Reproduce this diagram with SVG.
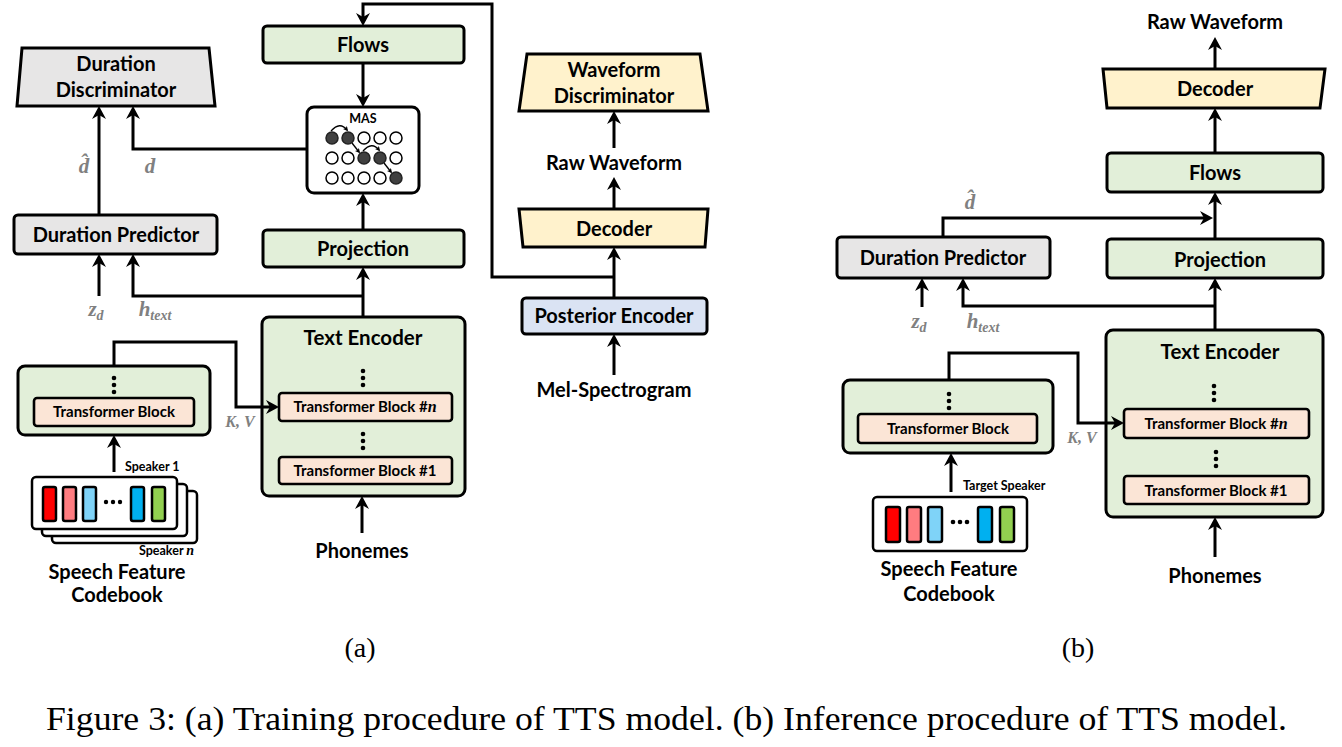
<svg xmlns="http://www.w3.org/2000/svg" width="1342" height="747" viewBox="0 0 1342 747">
<style>
  .bx{stroke:#000;stroke-width:3;}
  .g{fill:#e2efd9;}
  .gr{fill:#e7e6e6;}
  .y{fill:#fff2cc;}
  .bl{fill:#dae3f3;}
  .pe{fill:#fbe5d6;stroke:#000;stroke-width:2.6;}
  .t{font-family:Lato,"Open Sans",sans-serif;font-weight:700;font-size:20px;fill:#000;text-anchor:middle;}
  .te{font-size:20.5px;}
  .tb{font-size:15px;}
  .sm{font-family:Lato,"Open Sans",sans-serif;font-weight:700;font-size:12.5px;fill:#000;}
  .m{font-family:"Liberation Serif","DejaVu Serif",serif;font-weight:700;font-style:italic;font-size:21px;fill:#808080;text-anchor:middle;}
  .kv{font-size:16px;}
  .cap{font-family:"Liberation Serif","Times New Roman",serif;fill:#000;}
  .c{fill:none;stroke:#000;stroke-width:3;stroke-linejoin:miter;}
  .dot{fill:#000;}
  .card{fill:#fff;stroke:#000;stroke-width:2.5;}
  .bar{stroke:#000;stroke-width:2.5;}
  .ci{fill:#fff;stroke:#000;stroke-width:1.5;}
  .cf{fill:#404040;stroke:#222;stroke-width:1.5;}
  .ma{fill:none;stroke:#000;stroke-width:1.3;}
</style>
<defs>
  <marker id="ah" viewBox="0 0 13 14" refX="8" refY="7" markerWidth="13" markerHeight="14" markerUnits="userSpaceOnUse" orient="auto">
    <path d="M0,0 L13,7 L0,14 L4,7 z" fill="#000"/>
  </marker>
  <marker id="sa" viewBox="0 0 6 6" refX="4" refY="3" markerWidth="5" markerHeight="5" markerUnits="userSpaceOnUse" orient="auto">
    <path d="M0,0 L6,3 L0,6 L1.5,3 z" fill="#000"/>
  </marker>
</defs>
<rect width="1342" height="747" fill="#fff"/>

<!-- ===== (a) Training ===== -->
<g id="a-flows"><rect class="bx g" x="263" y="26" width="201" height="37" rx="4"/><text class="t" x="363" y="52">Flows</text></g>
<g id="a-duration-discriminator"><polygon class="bx gr" points="22,48 209,48 215,106 17,106"/><text class="t" x="116" y="71">Duration</text><text class="t" x="116" y="97">Discriminator</text></g>
<g id="a-mas">
  <rect class="bx" fill="#fff" x="307" y="107" width="112" height="86" rx="7"/>
  <text class="sm" x="363" y="123" text-anchor="middle" font-size="11.5">MAS</text>
  <circle class="cf" cx="332" cy="138" r="6"/><circle class="cf" cx="348" cy="138" r="6"/><circle class="ci" cx="364" cy="138" r="6"/><circle class="ci" cx="380" cy="138" r="6"/><circle class="ci" cx="396" cy="138" r="6"/>
  <circle class="ci" cx="332" cy="158" r="6"/><circle class="ci" cx="348" cy="158" r="6"/><circle class="cf" cx="364" cy="158" r="6"/><circle class="cf" cx="380" cy="158" r="6"/><circle class="ci" cx="396" cy="158" r="6"/>
  <circle class="ci" cx="332" cy="178" r="6"/><circle class="ci" cx="348" cy="178" r="6"/><circle class="ci" cx="364" cy="178" r="6"/><circle class="ci" cx="380" cy="178" r="6"/><circle class="cf" cx="396" cy="178" r="6"/>
  <path class="ma" d="M331,131 Q340,121 347,130" marker-end="url(#sa)"/>
  <path class="ma" d="M352,143 L359,152" marker-end="url(#sa)"/>
  <path class="ma" d="M363,151 Q372,141 379,150" marker-end="url(#sa)"/>
  <path class="ma" d="M384,163 L391,172" marker-end="url(#sa)"/>
</g>
<g id="a-duration-predictor"><rect class="bx gr" x="14" y="215" width="203" height="39" rx="4"/><text class="t" x="116" y="242">Duration Predictor</text></g>
<g id="a-projection"><rect class="bx g" x="263" y="230" width="201" height="37" rx="4"/><text class="t" x="363" y="256">Projection</text></g>
<g id="a-text-encoder">
  <rect class="bx g" x="262" y="317" width="203" height="179" rx="7"/>
  <text class="t te" x="363" y="345">Text Encoder</text>
  <circle class="dot" cx="363" cy="371" r="2.3"/><circle class="dot" cx="363" cy="378" r="2.3"/><circle class="dot" cx="363" cy="385" r="2.3"/>
  <rect class="pe" x="279" y="393" width="173" height="28" rx="3"/>
  <text class="t tb" x="365" y="412">Transformer Block #<tspan font-family="Liberation Serif,serif" font-style="italic" font-size="16">n</tspan></text>
  <circle class="dot" cx="363" cy="434" r="2.3"/><circle class="dot" cx="363" cy="441" r="2.3"/><circle class="dot" cx="363" cy="448" r="2.3"/>
  <rect class="pe" x="279" y="457" width="173" height="27" rx="3"/>
  <text class="t tb" x="365" y="476">Transformer Block #1</text>
</g>
<g id="a-speaker-encoder">
  <rect class="bx g" x="18" y="366" width="192" height="69" rx="7"/>
  <circle class="dot" cx="114" cy="378" r="2.3"/><circle class="dot" cx="114" cy="385" r="2.3"/><circle class="dot" cx="114" cy="392" r="2.3"/>
  <rect class="pe" x="34" y="398" width="160" height="28" rx="3"/>
  <text class="t tb" x="114" y="417">Transformer Block</text>
</g>
<g id="a-codebook">
  <rect class="card" x="52" y="491" width="145" height="52" rx="4"/>
  <rect class="card" x="42" y="484" width="145" height="52" rx="4"/>
  <rect class="card" x="32" y="477" width="145" height="52" rx="4"/>
  <rect class="bar" fill="#ff0000" x="43" y="487" width="13" height="34" rx="2"/>
  <rect class="bar" fill="#ff7c80" x="63" y="487" width="13" height="34" rx="2"/>
  <rect class="bar" fill="#7fd3f8" x="83" y="487" width="13" height="34" rx="2"/>
  <circle class="dot" cx="106" cy="502" r="2.2"/><circle class="dot" cx="113" cy="502" r="2.2"/><circle class="dot" cx="120" cy="502" r="2.2"/>
  <rect class="bar" fill="#00b0f0" x="131" y="487" width="13" height="34" rx="2"/>
  <rect class="bar" fill="#92d050" x="152" y="487" width="13" height="34" rx="2"/>
  <text class="sm" x="125" y="471">Speaker 1</text>
  <text class="sm" x="139" y="555">Speaker <tspan font-family="Liberation Serif,serif" font-style="italic" font-size="14">n</tspan></text>
  <text class="t" x="117" y="579">Speech Feature</text>
  <text class="t" x="117" y="602">Codebook</text>
</g>
<g id="a-phonemes"><text class="t" x="362" y="558">Phonemes</text></g>
<g id="a-waveform-discriminator"><polygon class="bx y" points="527,54 700,54 708,111 519,111"/><text class="t" x="614" y="77">Waveform</text><text class="t" x="614" y="103">Discriminator</text></g>
<g id="a-raw-waveform"><text class="t" x="614" y="170">Raw Waveform</text></g>
<g id="a-decoder"><polygon class="bx y" points="519,209 708,209 705,247 523,247"/><text class="t" x="614" y="236">Decoder</text></g>
<g id="a-posterior-encoder"><rect class="bx bl" x="522" y="298" width="185" height="36" rx="4"/><text class="t" x="614" y="323">Posterior Encoder</text></g>
<g id="a-mel"><text class="t" x="614" y="397">Mel-Spectrogram</text></g>
<g id="a-labels">
  <text class="m" x="84" y="173">d&#770;</text>
  <text class="m" x="150" y="173">d</text>
  <text class="m" x="96" y="316">z<tspan font-size="14" dy="4">d</tspan></text>
  <text class="m" x="155" y="316">h<tspan font-size="14" dy="4">text</tspan></text>
  <text class="m kv" x="240" y="427">K, V</text>
</g>

<!-- ===== (b) Inference ===== -->
<g id="b-raw-waveform"><text class="t" x="1215" y="29">Raw Waveform</text></g>
<g id="b-decoder"><polygon class="bx y" points="1103,69 1325,69 1320,108 1107,108"/><text class="t" x="1215" y="96">Decoder</text></g>
<g id="b-flows"><rect class="bx g" x="1107" y="153" width="216" height="39" rx="4"/><text class="t" x="1215" y="180">Flows</text></g>
<g id="b-projection"><rect class="bx g" x="1107" y="239" width="216" height="39" rx="4"/><text class="t" x="1220" y="267">Projection</text></g>
<g id="b-duration-predictor"><rect class="bx gr" x="837" y="237" width="213" height="41" rx="4"/><text class="t" x="943" y="265">Duration Predictor</text></g>
<g id="b-text-encoder">
  <rect class="bx g" x="1106" y="330" width="217" height="187" rx="7"/>
  <text class="t te" x="1220" y="359">Text Encoder</text>
  <circle class="dot" cx="1214" cy="386" r="2.3"/><circle class="dot" cx="1214" cy="393" r="2.3"/><circle class="dot" cx="1214" cy="400" r="2.3"/>
  <rect class="pe" x="1124" y="409" width="185" height="29" rx="3"/>
  <text class="t tb" x="1216" y="429">Transformer Block #<tspan font-family="Liberation Serif,serif" font-style="italic" font-size="16">n</tspan></text>
  <circle class="dot" cx="1216" cy="452" r="2.3"/><circle class="dot" cx="1216" cy="459" r="2.3"/><circle class="dot" cx="1216" cy="466" r="2.3"/>
  <rect class="pe" x="1124" y="476" width="185" height="28" rx="3"/>
  <text class="t tb" x="1216" y="496">Transformer Block #1</text>
</g>
<g id="b-speaker-encoder">
  <rect class="bx g" x="843" y="380" width="210" height="73" rx="7"/>
  <circle class="dot" cx="949" cy="394" r="2.3"/><circle class="dot" cx="949" cy="401" r="2.3"/><circle class="dot" cx="949" cy="408" r="2.3"/>
  <rect class="pe" x="858" y="414" width="179" height="29" rx="3"/>
  <text class="t tb" x="948" y="434">Transformer Block</text>
</g>
<g id="b-codebook">
  <rect class="card" x="873" y="497" width="154" height="54" rx="4"/>
  <rect class="bar" fill="#ff0000" x="886" y="507" width="14" height="35" rx="2"/>
  <rect class="bar" fill="#ff7c80" x="907" y="507" width="14" height="35" rx="2"/>
  <rect class="bar" fill="#7fd3f8" x="928" y="507" width="14" height="35" rx="2"/>
  <circle class="dot" cx="953" cy="522" r="2.3"/><circle class="dot" cx="960" cy="522" r="2.3"/><circle class="dot" cx="967" cy="522" r="2.3"/>
  <rect class="bar" fill="#00b0f0" x="978" y="507" width="14" height="35" rx="2"/>
  <rect class="bar" fill="#92d050" x="1000" y="507" width="14" height="35" rx="2"/>
  <text class="sm" x="963" y="490" font-size="14">Target Speaker</text>
  <text class="t" x="949" y="576">Speech Feature</text>
  <text class="t" x="949" y="601">Codebook</text>
</g>
<g id="b-phonemes"><text class="t" x="1215" y="583">Phonemes</text></g>
<g id="b-labels">
  <text class="m" x="970" y="209">d&#770;</text>
  <text class="m" x="919" y="328">z<tspan font-size="14" dy="4">d</tspan></text>
  <text class="m" x="983" y="328">h<tspan font-size="14" dy="4">text</tspan></text>
  <text class="m kv" x="1082" y="443">K, V</text>
</g>

<!-- ===== connectors ===== -->
<g id="connectors" class="c" marker-end="url(#ah)">
  <path d="M99,215 V111"/>
  <path d="M307,149 H133 V111"/>
  <path d="M363,317 V272"/>
  <path d="M363,296 H133 V259"/>
  <path d="M99,296 V259"/>
  <path d="M614,277 H492 V4 H363 V21"/>
  <path d="M363,63 V102"/>
  <path d="M363,230 V198"/>
  <path d="M114,366 V342 H236 V407 H274"/>
  <path d="M114,472 V440"/>
  <path d="M362,533 V501"/>
  <path d="M614,298 V252"/>
  <path d="M614,375 V339"/>
  <path d="M614,209 V182"/>
  <path d="M614,148 V116"/>
  <path d="M1215,69 V42"/>
  <path d="M1215,153 V113"/>
  <path d="M1215,239 V197"/>
  <path d="M943,237 V218 H1208"/>
  <path d="M1215,330 V283"/>
  <path d="M1215,306 H963 V283"/>
  <path d="M922,307 V283"/>
  <path d="M949,380 V353 H1078 V423 H1119"/>
  <path d="M951,492 V458"/>
  <path d="M1215,557 V522"/>
</g>

<!-- ===== captions ===== -->
<g id="captions">
  <text class="cap" x="360" y="657" font-size="28" text-anchor="middle">(a)</text>
  <text class="cap" x="1078" y="657" font-size="28" text-anchor="middle">(b)</text>
  <text class="cap" x="46" y="730" font-size="34" textLength="1241" lengthAdjust="spacingAndGlyphs">Figure 3: (a) Training procedure of TTS model. (b) Inference procedure of TTS model.</text>
</g>
</svg>
